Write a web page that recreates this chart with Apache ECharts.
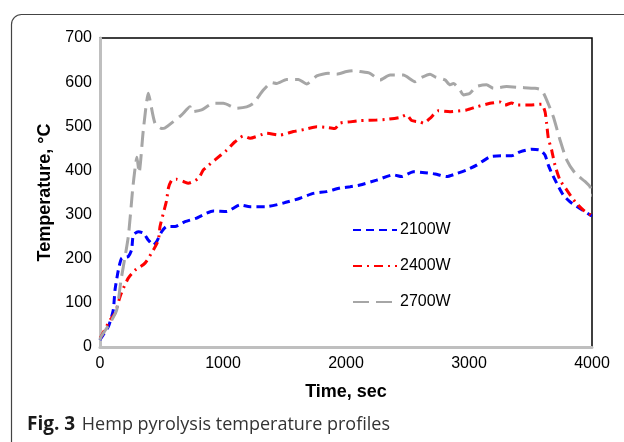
<!DOCTYPE html>
<html>
<head>
<meta charset="utf-8">
<script src="https://cdn.jsdelivr.net/npm/echarts@6/dist/echarts.min.js"></script>
<style>
html,body{margin:0;padding:0;background:#fff;}
#c{width:624px;height:442px;}
</style>
</head>
<body>
<div id="c"></div>
<script>
// ---- Data ----
var seriesNames = ['2100W', '2400W', '2700W'];
var xTicks = [0, 1000, 2000, 3000, 4000];
var yTicks = [0, 100, 200, 300, 400, 500, 600, 700];

var time2100 = [0, 8, 68, 108, 122, 149, 176, 230, 257, 271, 311, 352, 393, 434, 461, 501, 542, 610, 691, 786, 867, 921, 1030, 1138, 1220, 1355, 1490, 1626, 1734, 1843, 1951, 2033, 2114, 2249, 2385, 2452, 2547, 2642, 2724, 2818, 2900, 2981, 3062, 3171, 3266, 3347, 3415, 3509, 3577, 3618, 3645, 3672, 3713, 3767, 3821, 3902, 3984, 4000];
var temp2100 = [16, 20, 46, 84, 129, 174, 201, 205, 220, 254, 261, 258, 242, 231, 239, 261, 273, 273, 284, 292, 303, 308, 307, 322, 318, 318, 326, 337, 348, 352, 360, 363, 367, 378, 390, 386, 397, 395, 392, 386, 393, 401, 412, 431, 433, 433, 442, 448, 446, 435, 412, 394, 371, 344, 329, 314, 299, 297];

var time2400 = [0, 8, 81, 122, 163, 190, 230, 285, 366, 434, 474, 488, 515, 542, 556, 583, 623, 678, 718, 800, 840, 867, 935, 1030, 1098, 1165, 1220, 1355, 1463, 1572, 1667, 1762, 1856, 1911, 1951, 2033, 2114, 2249, 2344, 2439, 2493, 2534, 2602, 2629, 2683, 2751, 2846, 2981, 3062, 3171, 3252, 3293, 3347, 3388, 3496, 3591, 3618, 3631, 3645, 3672, 3699, 3740, 3794, 3862, 3930, 4000];
var temp2400 = [20, 23, 61, 76, 114, 133, 156, 174, 190, 220, 242, 273, 303, 333, 360, 378, 380, 375, 371, 382, 401, 408, 424, 446, 465, 478, 473, 484, 480, 488, 493, 499, 497, 495, 507, 510, 513, 514, 516, 520, 526, 513, 510, 507, 518, 535, 533, 537, 544, 552, 555, 548, 553, 548, 548, 550, 533, 507, 473, 446, 412, 378, 356, 329, 310, 297];

var time2700 = [0, 8, 81, 136, 170, 230, 265, 285, 300, 318, 352, 393, 406, 447, 501, 528, 594, 664, 732, 745, 826, 920, 1003, 1111, 1192, 1247, 1328, 1396, 1436, 1518, 1612, 1680, 1762, 1856, 1924, 2005, 2060, 2114, 2195, 2276, 2358, 2466, 2561, 2602, 2683, 2724, 2805, 2846, 2873, 2927, 2954, 3008, 3062, 3143, 3198, 3306, 3415, 3537, 3591, 3631, 3685, 3740, 3794, 3862, 3943, 3984, 3992, 4000];
var temp2700 = [16, 23, 54, 84, 150, 250, 356, 405, 430, 395, 491, 575, 560, 507, 495, 496, 510, 526, 544, 533, 537, 552, 552, 541, 544, 552, 582, 599, 597, 606, 606, 596, 614, 620, 618, 624, 626, 624, 620, 605, 616, 616, 601, 609, 618, 612, 605, 594, 597, 582, 571, 575, 590, 594, 586, 590, 588, 586, 582, 560, 522, 469, 424, 394, 375, 363, 344, 344];

var xTitle = 'Time, sec';
var yTitle = 'Temperature, °C';
var captionBold = 'Fig. 3';
var captionText = 'Hemp pyrolysis temperature profiles';

function pairs(ts, vs) { return ts.map(function (t, i) { return [t, vs[i]]; }); }

var chart = echarts.init(document.getElementById('c'), null, {renderer: 'canvas'});
var axisFont = 'Liberation Sans, Arial, sans-serif';

chart.setOption({
  animation: false,
  backgroundColor: '#ffffff',
  grid: {
    left: 100, right: 32, top: 38, bottom: 95,
    show: true, borderColor: '#000000', borderWidth: 1.5, backgroundColor: 'transparent'
  },
  xAxis: {
    type: 'value', min: 0, max: 4000, interval: 1000,
    name: xTitle, nameLocation: 'middle', nameGap: 36,
    nameTextStyle: {fontFamily: axisFont, fontSize: 18, fontWeight: 'bold', color: '#000'},
    axisLine: {show: true, onZero: false, lineStyle: {color: '#bfbfbf', width: 3}},
    axisTick: {show: false},
    splitLine: {show: false},
    axisLabel: {fontFamily: axisFont, fontSize: 16, color: '#000', margin: 9,
      formatter: function (v) { return xTicks.indexOf(v) >= 0 ? String(v) : ''; }}
  },
  yAxis: {
    type: 'value', min: 0, max: 700, interval: 100,
    name: yTitle, nameLocation: 'middle', nameGap: 44, nameRotate: 90,
    nameTextStyle: {fontFamily: axisFont, fontSize: 18, fontWeight: 'bold', color: '#000'},
    axisLine: {show: true, onZero: false, lineStyle: {color: '#bfbfbf', width: 3}},
    axisTick: {show: false},
    splitLine: {show: false},
    axisLabel: {fontFamily: axisFont, fontSize: 16, color: '#000', margin: 8,
      formatter: function (v) { return yTicks.indexOf(v) >= 0 ? String(v) : ''; }}
  },
  legend: {
    orient: 'vertical', left: 347, top: 217, itemGap: 20,
    itemWidth: 44, itemHeight: 14, itemStyle: {opacity: 0},
    textStyle: {fontFamily: axisFont, fontSize: 16, color: '#000', padding: [0, 0, 0, -2]},
    data: seriesNames
  },
  series: [
    {name: seriesNames[0], type: 'line', data: pairs(time2100, temp2100), showSymbol: false, symbol: 'none', smooth: 0.2,
     lineStyle: {color: '#0000ff', width: 3, type: [8, 5]}, itemStyle: {color: '#0000ff'}},
    {name: seriesNames[1], type: 'line', data: pairs(time2400, temp2400), showSymbol: false, symbol: 'none', smooth: 0.2,
     lineStyle: {color: '#ff0000', width: 3, type: [9, 5, 2, 5]}, itemStyle: {color: '#ff0000'}},
    {name: seriesNames[2], type: 'line', data: pairs(time2700, temp2700), showSymbol: false, symbol: 'none', smooth: 0.2,
     lineStyle: {color: '#a6a6a6', width: 3, type: [16, 7]}, itemStyle: {color: '#a6a6a6'}}
  ],
  graphic: [
    {type: 'rect', silent: true, z: -1,
     shape: {x: 11.5, y: 14.5, width: 700, height: 500, r: 10},
     style: {fill: 'none', stroke: '#444444', lineWidth: 1.2}},
    {type: 'text', left: 27, top: 415, silent: true,
     style: {
       text: '{b|' + captionBold + '}  {r|' + captionText + '}',
       rich: {
         b: {fontFamily: 'Open Sans, Noto Sans, sans-serif', fontSize: 19, fontWeight: 'bold', fill: '#1a1a1a'},
         r: {fontFamily: 'Open Sans, Noto Sans, sans-serif', fontSize: 18, fill: '#333333'}
       }
     }}
  ]
});
</script>
</body>
</html>
